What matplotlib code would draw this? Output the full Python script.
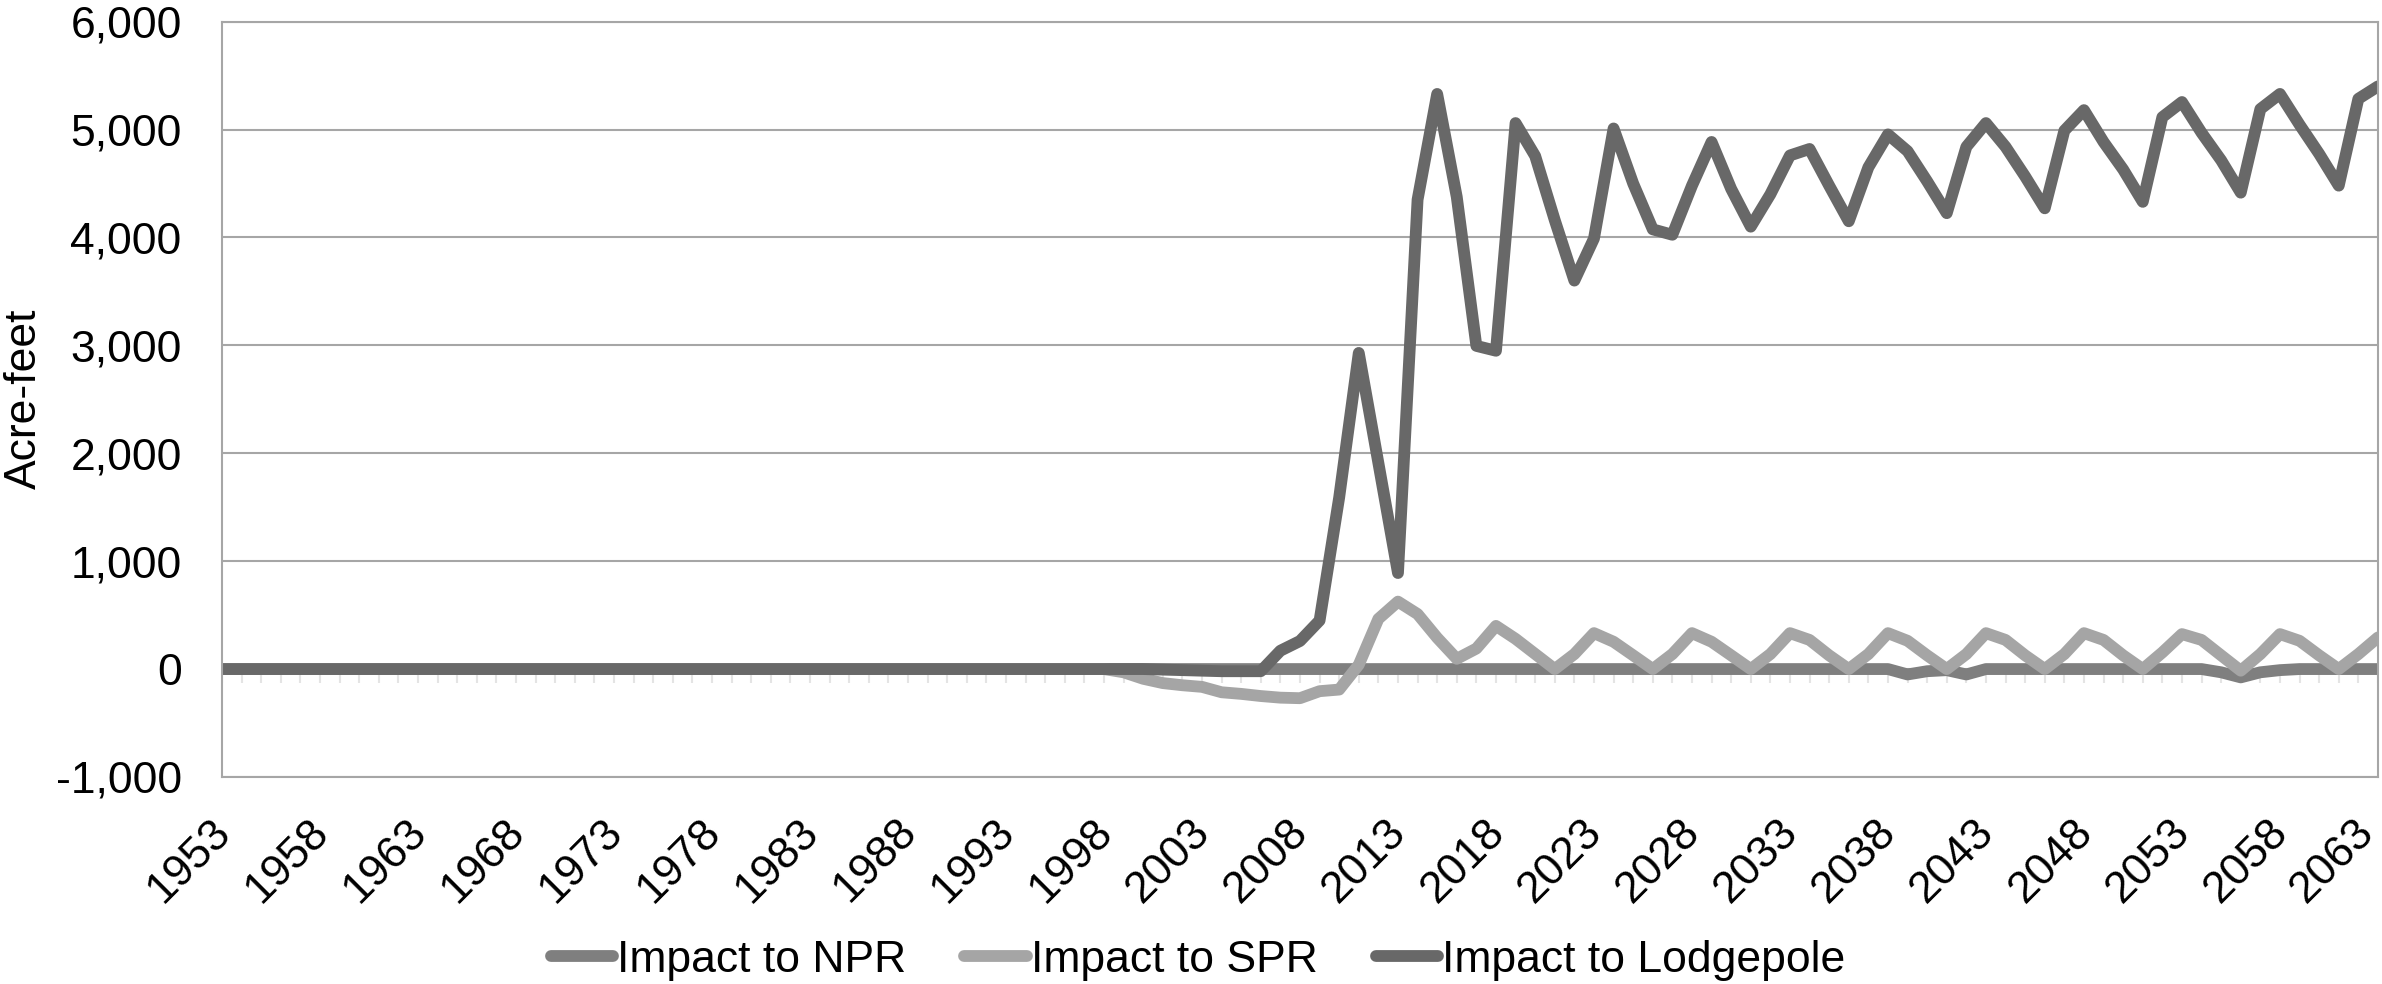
import matplotlib
matplotlib.use("Agg")
import matplotlib.pyplot as plt
import matplotlib.transforms as mtransforms
from matplotlib.ticker import FuncFormatter

plt.rcParams['font.family'] = ['Liberation Sans', 'DejaVu Sans']

# categories
years = list(range(1953, 2064))
label_years = years[::5]
series_names = ["Impact to NPR", "Impact to SPR", "Impact to Lodgepole"]

# values (acre-feet)
npr = [0] * 86 + [-50, -20, -10, -50] + [0] * 12 + [-30, -77, -30, -10] + [0] * 5

spr = [0] * 45 + [
    0, -30, -90, -130, -150, -165, -215, -230, -250, -265, -270, -205, -190,   # 1998-2010
    40, 465, 625, 510, 290, 95, 190, 400, 280, 140,                             # 2011-2020
    0, 139, 333, 253, 127, 0, 139, 333, 253, 127,                               # 2021-2030
    0, 139, 333, 270, 127, 0, 139, 333, 262, 127,                               # 2031-2040
    0, 139, 333, 270, 127, 0, 139, 333, 270, 127,                               # 2041-2050
    0, 154, 324, 270, 127, -15, 139, 324, 262, 127,                             # 2051-2060
    0, 139, 293,                                                                # 2061-2063
]

lodgepole = [0] * 48 + [
    -5, -10, -15, -20, -20, -20,                                                # 2001-2006
    170, 260, 450, 1590, 2930, 1910, 890,                                       # 2007-2013
    4350, 5330, 4375, 2995, 2950, 5060, 4755,                                   # 2014-2020
    4160, 3600, 3990, 5010, 4500, 4075, 4025, 4480, 4885, 4450,                 # 2021-2030
    4100, 4400, 4760, 4820, 4480, 4150, 4650, 4955, 4800, 4520,                 # 2031-2040
    4225, 4840, 5060, 4840, 4565, 4270, 4990, 5180, 4885, 4630,                 # 2041-2050
    4330, 5115, 5255, 4970, 4715, 4415, 5190, 5330, 5045, 4775,                 # 2051-2060
    4480, 5285, 5400,                                                           # 2061-2063
]

colors = ["#7f7f7f", "#a5a5a5", "#686868"]
grid_color = "#a6a6a6"


def draw_chart():
    fig = plt.figure(figsize=(23.82, 9.84), dpi=100)
    ax = fig.add_axes([0.0932, 0.2104, 0.9051, 0.7676])

    # light category tick marks along the zero line
    ax.vlines(years, -130, 0, color="#e4e4e4", lw=1.5, zorder=1.5)

    handles = []
    for name, vals, col in zip(series_names, [npr, spr, lodgepole], colors):
        h, = ax.plot(years, vals, color=col, lw=8.5, label=name,
                     solid_capstyle="round", solid_joinstyle="round", zorder=2)
        handles.append(h)

    ax.set_xlim(1953, 2063)
    ax.set_ylim(-1000, 6000)
    ax.set_yticks(range(-1000, 7000, 1000))
    ax.yaxis.set_major_formatter(FuncFormatter(lambda v, p: f"{int(v):,}"))
    ax.grid(axis="y", color=grid_color, lw=1.5)
    ax.set_axisbelow(True)
    for s in ax.spines.values():
        s.set_color(grid_color)
        s.set_linewidth(1.5)

    ax.tick_params(axis="y", length=0, pad=29, labelsize=32, colors="black")
    ax.set_xticks(label_years)
    ax.set_xticklabels([str(y) for y in label_years], rotation=45,
                       rotation_mode="anchor", ha="right", va="center")
    ax.tick_params(axis="x", length=0, pad=35, labelsize=32)
    xlabels = ax.get_xticklabels()
    for i, lab in enumerate(xlabels):
        dx = -0.10 if i == len(xlabels) - 1 else 0.02
        shift = mtransforms.ScaledTranslation(dx, 0, fig.dpi_scale_trans)
        lab.set_transform(lab.get_transform() + shift)

    fig.text(0.0101, 0.595, "Acre-feet", rotation=90, ha="center", va="center",
             fontsize=32)

    fig.legend(handles, series_names, loc="center", bbox_to_anchor=(0.503, 0.024),
               ncol=3, frameon=False, fontsize=32, handlelength=1.4,
               handletextpad=0.1, columnspacing=1.3)

    fig.savefig("out.png", dpi=100)


draw_chart()
